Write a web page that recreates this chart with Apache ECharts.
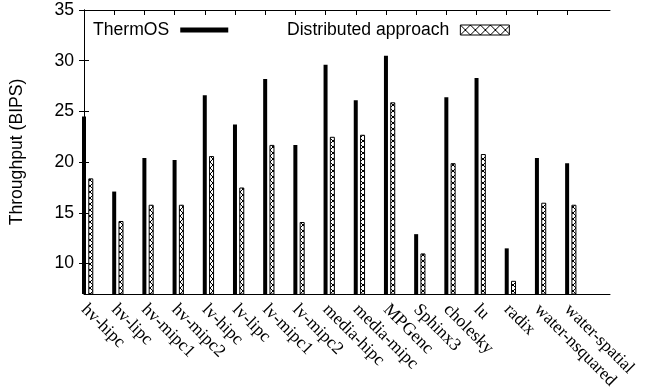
<!DOCTYPE html>
<html>
<head>
<meta charset="utf-8">
<script src="https://cdn.jsdelivr.net/npm/echarts@6/dist/echarts.min.js"></script>
<style>html,body{margin:0;padding:0;background:#fff}#c{width:650px;height:392px}</style>
</head>
<body>
<div id="c"></div>
<script>
var categories = ['hv-hipc','hv-lipc','hv-mipc1','hv-mipc2','lv-hipc','lv-lipc','lv-mipc1','lv-mipc2','media-hipc','media-mipc','MPGenc','Sphinx3','cholesky','lu','radix','water-nsquared','water-spatial'];
var thermos = [24.5,17.1,20.4,20.2,26.6,23.7,28.2,21.7,29.6,26.1,30.5,12.9,26.4,28.3,11.5,20.4,19.9];
var distributed = [18.4,14.2,15.8,15.8,20.6,17.5,21.7,14.1,22.5,22.7,25.9,11.0,19.9,20.8,8.3,16.0,15.8];
var yTicks = [10,15,20,25,30,35];

function hatch(size){
  var c = document.createElement('canvas');
  c.width = size; c.height = size;
  var g = c.getContext('2d');
  g.fillStyle = '#fff'; g.fillRect(0,0,size,size);
  g.strokeStyle = '#000'; g.lineWidth = 1;
  g.beginPath();
  g.moveTo(0,0); g.lineTo(size,size);
  g.moveTo(size,0); g.lineTo(0,size);
  g.stroke();
  return c;
}
var barPattern = {image: hatch(6), repeat: 'repeat'};
var legPattern = {image: hatch(10), repeat: 'repeat'};

var idx = categories.map(function(_, i){ return i; });
var xMax = 17.42, shift = 0.225;
var FS = 17.6;
var chart = echarts.init(document.getElementById('c'));
var axisLine = {show: true, lineStyle: {color: '#000', width: 1}};
chart.setOption({
  animation: false,
  grid: {left: 83, right: 40, top: 10, bottom: 98, containLabel: false},
  legend: [{
    left: 93, top: 21, padding: 0, align: 'right', itemWidth: 48, itemHeight: 5,
    itemGap: 0, selectedMode: false,
    textStyle: {fontFamily: 'Liberation Sans', fontSize: FS, color: '#000', padding: [0, 6, 0, 0]},
    data: [{name: 'ThermOS', icon: 'rect', itemStyle: {color: '#000'}}]
  }, {
    left: 287, top: 21, padding: 0, align: 'right', itemWidth: 49, itemHeight: 10,
    itemGap: 0, selectedMode: false,
    textStyle: {fontFamily: 'Liberation Sans', fontSize: FS, color: '#000', padding: [0, 6, 0, 0]},
    data: [{name: 'Distributed approach', icon: 'rect', itemStyle: {color: legPattern, borderColor: '#000', borderWidth: 1}}]
  }],
  xAxis: [{
    type: 'value', position: 'bottom', min: 0, max: xMax,
    axisLine: axisLine, splitLine: {show: false},
    axisTick: {show: true, inside: true, length: 5, customValues: idx, lineStyle: {color: '#000'}},
    axisLabel: {customValues: idx, rotate: -45, margin: 13, fontFamily: 'Liberation Serif', fontSize: FS, color: '#000',
      formatter: function(v){ return categories[Math.round(v)]; }}
  }, {
    type: 'value', position: 'top', min: 0, max: xMax,
    axisLine: axisLine, splitLine: {show: false},
    axisTick: {show: true, inside: true, length: 5, customValues: idx, lineStyle: {color: '#000'}},
    axisLabel: {show: false}
  }, {
    type: 'value', position: 'bottom', min: -shift, max: xMax - shift, show: false
  }],
  yAxis: [{
    type: 'value', min: 7, max: 35, position: 'left',
    name: 'Throughput (BIPS)', nameLocation: 'middle', nameGap: 58,
    nameTextStyle: {fontFamily: 'Liberation Sans', fontSize: FS, color: '#000'},
    axisLine: axisLine, splitLine: {show: false},
    axisTick: {show: true, inside: true, length: 5, customValues: yTicks, lineStyle: {color: '#000'}},
    axisLabel: {customValues: yTicks, fontFamily: 'Liberation Sans', fontSize: FS, color: '#000', margin: 10}
  }, {
    type: 'value', min: 7, max: 35, position: 'right',
    axisLine: axisLine, splitLine: {show: false},
    axisTick: {show: true, inside: true, length: 5, customValues: yTicks, lineStyle: {color: '#000'}},
    axisLabel: {show: false}
  }],
  series: [{
    name: 'ThermOS', type: 'bar', xAxisIndex: 0, yAxisIndex: 0, barWidth: 4,
    itemStyle: {color: '#000'},
    data: thermos.map(function(v, i){ return [i, v]; })
  }, {
    name: 'Distributed approach', type: 'bar', xAxisIndex: 2, yAxisIndex: 0, barWidth: 5,
    itemStyle: {color: barPattern, borderColor: '#000', borderWidth: 1},
    data: distributed.map(function(v, i){ return [i, v]; })
  }]
});
</script>
</body>
</html>
